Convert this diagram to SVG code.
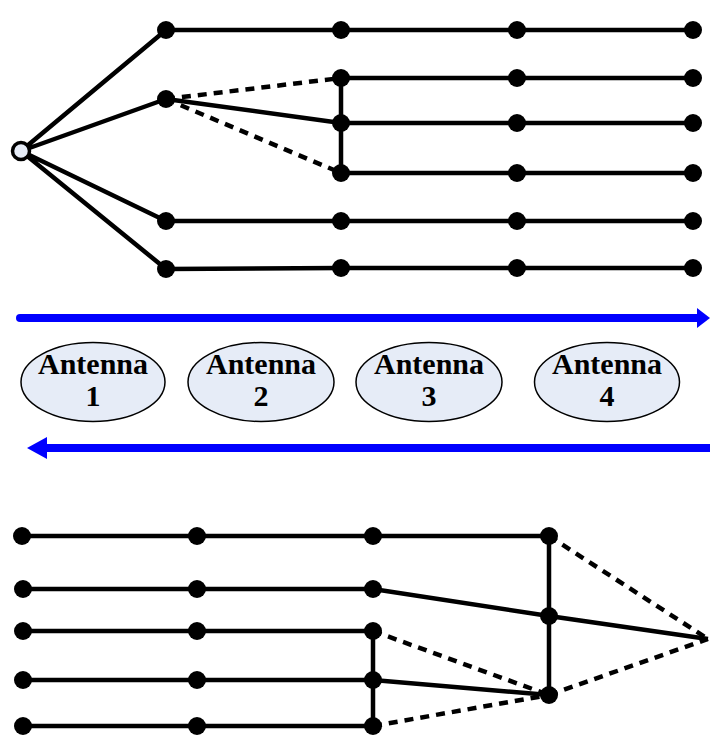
<svg xmlns="http://www.w3.org/2000/svg" width="710" height="750" viewBox="0 0 710 750">
<defs>
<style>
.e{stroke:#000;stroke-width:4.5;fill:none}
.d{stroke:#000;stroke-width:4.5;fill:none;stroke-dasharray:9 7}
.n{fill:#000}
.ant{fill:#e6ecf7;stroke:#000;stroke-width:1.5}
.t{font-family:"Liberation Serif","Times New Roman",serif;font-weight:bold;font-size:30px;text-anchor:middle;fill:#000}
.arr{stroke:#0000ff;stroke-width:8;fill:none;stroke-linecap:round}
</style>
</defs>
<rect width="710" height="750" fill="#fff"/>
<g id="connectors">
<path class="e" d="M21 151L166 30M21 151L166 99M21 151L166 221M21 151L166 269"/>
<path class="e" d="M166 30H693M166 99L341 123M341 78H693M341 123H693M341 173H693M166 221H693M166 269L341 268H693M341 78V173"/>
<path class="d" d="M166 99L341 78M166 99L341 173"/>
<path class="e" d="M22 536H549M22 589H373L549 616L708 639M22 631H373M22 680H373L549 695M22 726H373M373 631V726M549 536V695"/>
<path class="d" d="M373 631L549 695M373 726L549 695M549 536L708 639M549 695L708 639"/>
<path class="arr" d="M20 318H698"/>
<polygon points="697,308 710,318 697,328" fill="#0000ff"/>
<path class="arr" d="M45 448H710" style="stroke-linecap:butt"/>
<polygon points="27,448 47,437 47,459" fill="#0000ff"/>
</g>
<g id="source"><circle cx="21" cy="151" r="8.5" fill="#e6ecf7" stroke="#000" stroke-width="3.5"/></g>
<g id="nodes-top" class="n">
<circle cx="166" cy="30" r="9"/><circle cx="166" cy="99" r="9"/><circle cx="166" cy="221" r="9"/><circle cx="166" cy="269" r="9"/>
<circle cx="341" cy="30" r="9"/><circle cx="341" cy="78" r="9"/><circle cx="341" cy="123" r="9"/><circle cx="341" cy="173" r="9"/><circle cx="341" cy="221" r="9"/><circle cx="341" cy="268" r="9"/>
<circle cx="517" cy="30" r="9"/><circle cx="517" cy="78" r="9"/><circle cx="517" cy="123" r="9"/><circle cx="517" cy="173" r="9"/><circle cx="517" cy="221" r="9"/><circle cx="517" cy="268" r="9"/>
<circle cx="693" cy="30" r="9"/><circle cx="693" cy="78" r="9"/><circle cx="693" cy="123" r="9"/><circle cx="693" cy="173" r="9"/><circle cx="693" cy="221" r="9"/><circle cx="693" cy="268" r="9"/>
</g>
<g id="antenna1"><ellipse class="ant" cx="93" cy="382" rx="72" ry="39.5"/><text class="t" x="93" y="374">Antenna</text><text class="t" x="93" y="406">1</text></g>
<g id="antenna2"><ellipse class="ant" cx="261" cy="382" rx="73" ry="39.5"/><text class="t" x="261" y="374">Antenna</text><text class="t" x="261" y="406">2</text></g>
<g id="antenna3"><ellipse class="ant" cx="429" cy="382" rx="73" ry="39.5"/><text class="t" x="429" y="374">Antenna</text><text class="t" x="429" y="406">3</text></g>
<g id="antenna4"><ellipse class="ant" cx="607" cy="382" rx="72.5" ry="39.5"/><text class="t" x="607" y="374">Antenna</text><text class="t" x="607" y="406">4</text></g>
<g id="nodes-bottom" class="n">
<circle cx="22" cy="536" r="9"/><circle cx="23" cy="589" r="9"/><circle cx="23" cy="631" r="9"/><circle cx="23" cy="680" r="9"/><circle cx="23" cy="726" r="9"/>
<circle cx="197" cy="536" r="9"/><circle cx="197" cy="589" r="9"/><circle cx="197" cy="631" r="9"/><circle cx="197" cy="680" r="9"/><circle cx="197" cy="726" r="9"/>
<circle cx="373" cy="536" r="9"/><circle cx="373" cy="589" r="9"/><circle cx="373" cy="631" r="9"/><circle cx="373" cy="680" r="9"/><circle cx="373" cy="726" r="9"/>
<circle cx="549" cy="536" r="9"/><circle cx="549" cy="616" r="9"/><circle cx="549" cy="695" r="9"/>
</g>
</svg>
